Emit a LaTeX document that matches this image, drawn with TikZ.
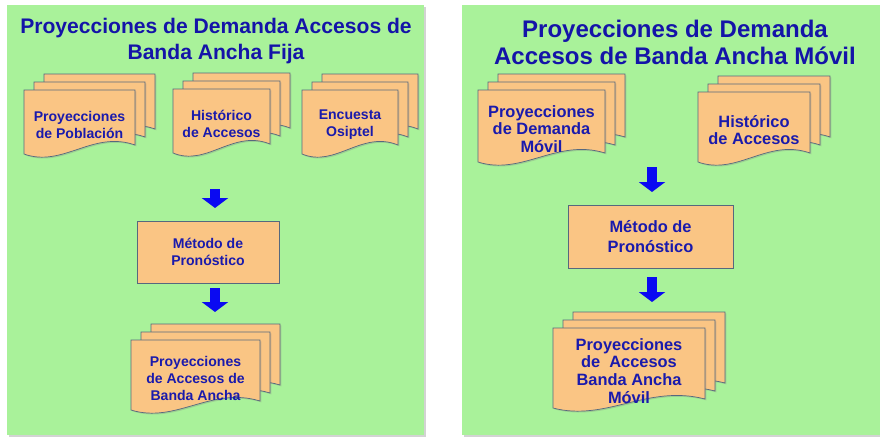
\documentclass[tikz,border=0pt]{standalone}
\usepackage{fontspec}
\setmainfont{Liberation Sans}
\usepackage{tikz}
\usetikzlibrary{arrows.meta,positioning,shadows}
\definecolor{panelgreen}{HTML}{A9F29A}
\definecolor{pagepeach}{HTML}{FAC584}
\definecolor{pageline}{HTML}{56687E}
\definecolor{inkblue}{HTML}{1A1AAC}
\definecolor{titleblue}{HTML}{1414A8}
\definecolor{arrowblue}{HTML}{0A0AF2}

% stack of three pages with a wavy bottom, text node on the front page
% #1 name, #2 x, #3 y (top left of front page), #4 w, #5 h, #6 text
\newcommand{\docstack}[6]{%
  \foreach \k in {2,1,0}{
    \draw[page] (#2+\k*10,#3-\k*8) -- (#2+\k*10+#4,#3-\k*8)
      -- (#2+\k*10+#4,#3-\k*8+#5-9)
      .. controls (#2+\k*10+0.62*#4,#3-\k*8+#5-24)
      and (#2+\k*10+0.35*#4,#3-\k*8+#5+14) .. (#2+\k*10,#3-\k*8+#5) -- cycle;
  }
  \node[doctext] (#1) at (#2+0.5*#4,#3+0.5*#5+3) {#6};
}

\begin{document}
\begin{tikzpicture}[x=0.03cm, y=-0.03cm,
  panel/.style={fill=panelgreen, draw=none,
                drop shadow={shadow xshift=0.6mm, shadow yshift=-0.6mm, opacity=0.35}},
  page/.style={draw=pageline, fill=pagepeach, line width=0.6pt,
               drop shadow={shadow xshift=0.4mm, shadow yshift=-0.4mm, opacity=0.3}},
  doctext/.style={align=center, text=inkblue, font=\bfseries\fontsize{12}{14.5}\selectfont},
  method/.style={draw=pageline, fill=pagepeach, line width=0.6pt, align=center,
                 text=inkblue, font=\bfseries\fontsize{12}{14.5}\selectfont,
                 drop shadow={shadow xshift=0.4mm, shadow yshift=-0.4mm, opacity=0.3}},
  title/.style={align=center, text=titleblue, font=\bfseries\fontsize{18}{22}\selectfont},
  blockarr/.style={draw=arrowblue, line width=0.3cm,
                   -{Triangle[width=0.78cm, length=0.3cm]}}]
\useasboundingbox (0,0) rectangle (880,437);

% panels
\node[panel, minimum width=12.48cm, minimum height=12.9cm, inner sep=0pt] (fija) at (215.5,220) {};
\node[panel, minimum width=12.6cm, minimum height=12.9cm, inner sep=0pt] (movil) at (672,220) {};

% fixed broadband
\node[title] (tfija) at (216,41) {Proyecciones de Demanda Accesos de\\Banda Ancha Fija};
\docstack{pob}{24}{90}{111}{64}{Proyecciones\\de Población}
\docstack{hfija}{173}{89}{97}{64}{Histórico\\de Accesos}
\docstack{osip}{302}{90}{96}{64}{Encuesta\\Osiptel}
\node[method, minimum width=4.26cm, minimum height=1.86cm] (mfija) at (208,252) {Método de\\Pronóstico};
\docstack{pfija}{131}{340}{129}{70}{Proyecciones\\de Accesos de\\Banda Ancha}
\coordinate (a1s) at (215,189);
\coordinate (a1e) at (215,208);
\coordinate (a2s) at (215,288);
\coordinate (a2e) at (215,312);
\draw[blockarr] (a1s) -- (a1e);
\draw[blockarr] (a2s) -- (a2e);

% mobile broadband
\begin{scope}[doctext/.append style={font=\bfseries\fontsize{14}{15.2}\selectfont}]
\node[title, font=\bfseries\fontsize{20.5}{23}\selectfont] (tmovil) at (675,42)
  {Proyecciones de Demanda\\Accesos de Banda Ancha Móvil};
\docstack{dmov}{478}{90}{127}{72}{Proyecciones\\de Demanda\\Móvil}
\docstack{hmov}{698}{92}{112}{70}{Histórico\\de Accesos}
\node[method, font=\bfseries\fontsize{14}{16.5}\selectfont,
  minimum width=4.95cm, minimum height=1.89cm] (mmov) at (650.5,236.5) {Método de\\Pronóstico};
\docstack{pmov}{553}{328}{152}{80}{Proyecciones\\de \ Accesos\\Banda Ancha\\Móvil}
\coordinate (b1s) at (652,167);
\coordinate (b1e) at (652,192);
\coordinate (b2s) at (652,277);
\coordinate (b2e) at (652,302);
\draw[blockarr] (b1s) -- (b1e);
\draw[blockarr] (b2s) -- (b2e);
\end{scope}
\end{tikzpicture}
\end{document}
